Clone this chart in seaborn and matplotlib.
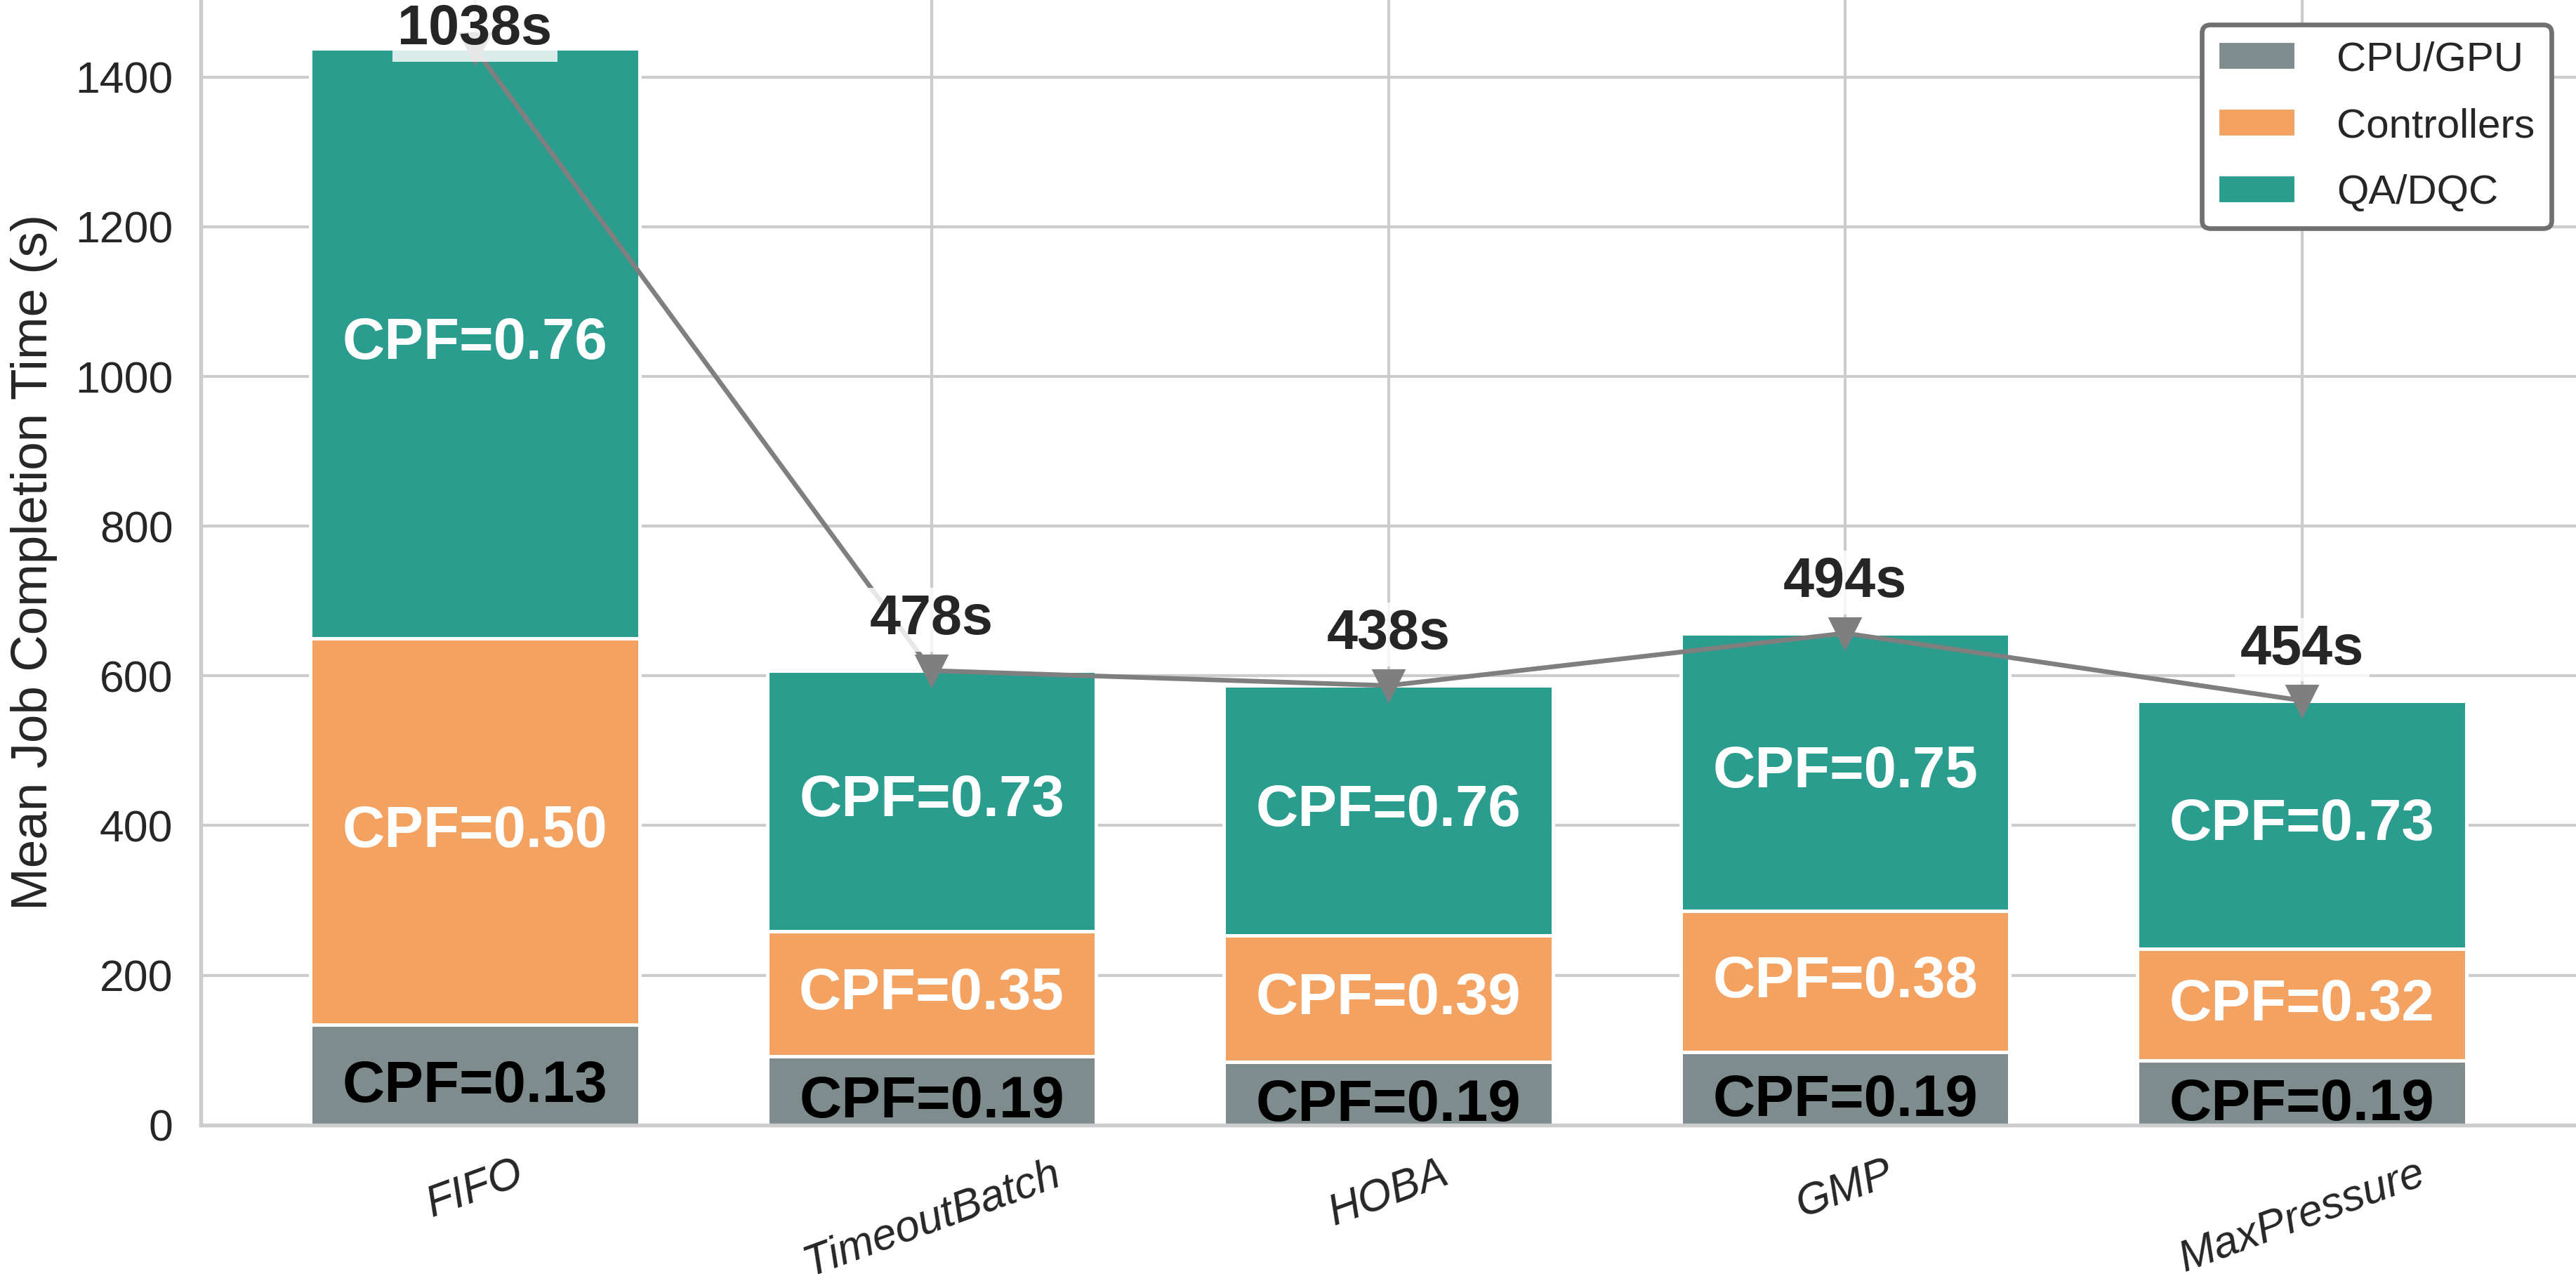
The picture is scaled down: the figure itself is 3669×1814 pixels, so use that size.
import numpy as np
import pandas as pd
import seaborn as sns
import matplotlib.pyplot as plt
from matplotlib.patches import Patch

# DATA
methods = ["FIFO", "TimeoutBatch", "HOBA", "GMP", "MaxPressure"]
cpu_gpu = [134, 92, 84, 97, 86]
controllers = [516, 167, 169, 189, 149]
qa_dqc = [788, 348, 334, 371, 332]
cpf_cpu = ["0.13", "0.19", "0.19", "0.19", "0.19"]
cpf_ctrl = ["0.50", "0.35", "0.39", "0.38", "0.32"]
cpf_qa = ["0.76", "0.73", "0.76", "0.75", "0.73"]
jct_labels = ["1038s", "478s", "438s", "494s", "454s"]

c_cpu = "#7f8c8d"
c_ctrl = "#f4a261"
c_qa = "#2a9d8f"

sns.set_theme(style="whitegrid")
plt.rcParams["font.family"] = ["Liberation Sans", "DejaVu Sans"]

df = pd.DataFrame({"method": methods, "cpu": cpu_gpu, "ctrl": controllers, "qa": qa_dqc})
df["ctrl_top"] = df["cpu"] + df["ctrl"]
df["total"] = df["ctrl_top"] + df["qa"]

fig, ax = plt.subplots(figsize=(3669 / 300, 1814 / 300), dpi=300)
fig.subplots_adjust(left=0.078, right=1.0, bottom=0.117, top=1.0)

# stacked bars = overlapping cumulative bars
for col, colr in [("total", c_qa), ("ctrl_top", c_ctrl), ("cpu", c_cpu)]:
    sns.barplot(data=df, x="method", y=col, color=colr, width=0.72, saturation=1,
                edgecolor="white", linewidth=1.2, ax=ax, errorbar=None)

xs = np.arange(len(methods))
ax.plot(xs, df["total"], color="#7f7f7f", lw=1.6, marker="v", markersize=10, zorder=4)

ymax = 1503
for i in xs:
    cpu = df["cpu"][i]
    top = df["ctrl_top"][i]
    tot = df["total"][i]
    ax.annotate("CPF=" + cpf_cpu[i], (i, cpu / 2), xytext=(0, -4), textcoords="offset points",
                ha="center", va="center", color="black", fontsize=20, fontweight="bold", zorder=5)
    ax.text(i, (cpu + top) / 2, "CPF=" + cpf_ctrl[i], ha="center", va="center", color="white",
            fontsize=20, fontweight="bold", zorder=5)
    ax.text(i, (top + tot) / 2, "CPF=" + cpf_qa[i], ha="center", va="center", color="white",
            fontsize=20, fontweight="bold", zorder=5)
    ly = min(tot + 68, ymax - 40)
    ax.text(i, ly, jct_labels[i], ha="center", va="center", color="#262626",
            fontsize=19, fontweight="bold", zorder=6,
            bbox=dict(boxstyle="square,pad=0.1", fc="white", ec="none", alpha=0.82))

ax.set_ylim(0, ymax)
ax.set_xlim(-0.6, 4.6)
ax.set_xlabel("")
ax.set_ylabel("Mean Job Completion Time (s)", fontsize=17.5, labelpad=6)
ax.tick_params(axis="y", labelsize=15)
ax.set_xticks(xs)
ax.set_xticklabels(methods, rotation=20, ha="center", fontsize=15, fontstyle="italic")
ax.xaxis.grid(True)
ax.yaxis.grid(True)
ax.set_axisbelow(True)
sns.despine(ax=ax, top=True, right=True)
for s in ["left", "bottom"]:
    ax.spines[s].set_color("#cccccc")
    ax.spines[s].set_linewidth(1.3)

handles = [Patch(facecolor=c_cpu, edgecolor="white", label="CPU/GPU"),
           Patch(facecolor=c_ctrl, edgecolor="white", label="Controllers"),
           Patch(facecolor=c_qa, edgecolor="white", label="QA/DQC")]
leg = ax.legend(handles=handles, loc="upper right", fontsize=14, handlelength=1.9,
                handletextpad=1.0, frameon=True, fancybox=True, framealpha=1,
                borderaxespad=0.6, labelspacing=0.7)
leg.get_frame().set_edgecolor("#707070")
leg.get_frame().set_linewidth(1.6)

fig.savefig("out.png", dpi=300)
